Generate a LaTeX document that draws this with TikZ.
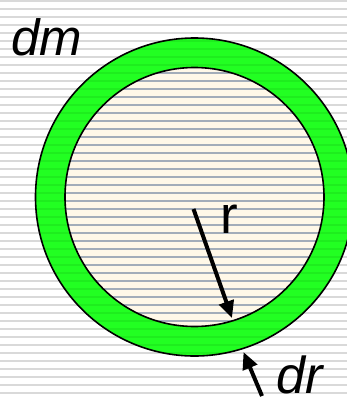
\documentclass[tikz,border=0pt]{standalone}
\usepackage{fontspec}
\setmainfont{Liberation Sans}
\definecolor{SHgray}{HTML}{D9D9D9}
\definecolor{SHblue}{HTML}{A3ADB9}
\definecolor{SHcream}{HTML}{FFF8E8}
\definecolor{SHgreen}{HTML}{22FF22}
\definecolor{SHgreenline}{HTML}{1EEE1E}
\usetikzlibrary{arrows.meta}

\tikzset{
   lbl/.style={inner sep=0pt, anchor=base west},
   radarrow/.style={-{Triangle[length=17pt,width=15pt]}, line width=4pt}
}

\begin{document}
\begin{tikzpicture}[x=1pt,y=-1pt]
      \useasboundingbox (0,0) rectangle (347,397);
      \clip (0,0) rectangle (347,397);
      % Striped background
      \fill[white] (0,0) rectangle (347,397);
      \foreach \y in {1,9,...,401}
         \fill[SHgray] (0,\y-1.2) rectangle (347,\y+1.2);
      % Centre of the shell
      \coordinate (c) at (194.5,197);
      % Green shell dm
      \fill[SHgreen] (c) circle (159pt);
      \begin{scope}
         \clip (c) circle (159pt);
         \foreach \y in {1,9,...,401}
            \fill[SHgreenline] (0,\y-1.2) rectangle (347,\y+1.2);
      \end{scope}
      % Inner disk
      \fill[SHcream] (c) circle (129.5pt);
      \begin{scope}
         \clip (c) circle (129.5pt);
         \foreach \y in {1,9,...,401}
            \fill[SHblue] (0,\y-1.2) rectangle (347,\y+1.2);
      \end{scope}
      \draw[line width=1.6pt] (c) circle (159pt);
      \draw[line width=1.6pt] (c) circle (129.5pt);
      % Radius r
      \coordinate (rtail) at (193.5,209);
      \coordinate (rtip) at (232,318);
      \draw[radarrow] (rtail) -- (rtip);
      \node[lbl, font=\fontsize{53}{53}\selectfont] (rlabel) at (220,233) {r};
      % Thickness dr
      \coordinate (drtail) at (262,396);
      \coordinate (drtip) at (243.5,352);
      \draw[radarrow] (drtail) -- (drtip);
      \node[lbl, font=\fontsize{52}{52}\selectfont\itshape] (drlabel) at (276,393.5) {dr};
      % Mass label
      \node[lbl, font=\fontsize{51}{51}\selectfont\itshape] (dmlabel) at (11,55) {dm};
\end{tikzpicture}
\end{document}
